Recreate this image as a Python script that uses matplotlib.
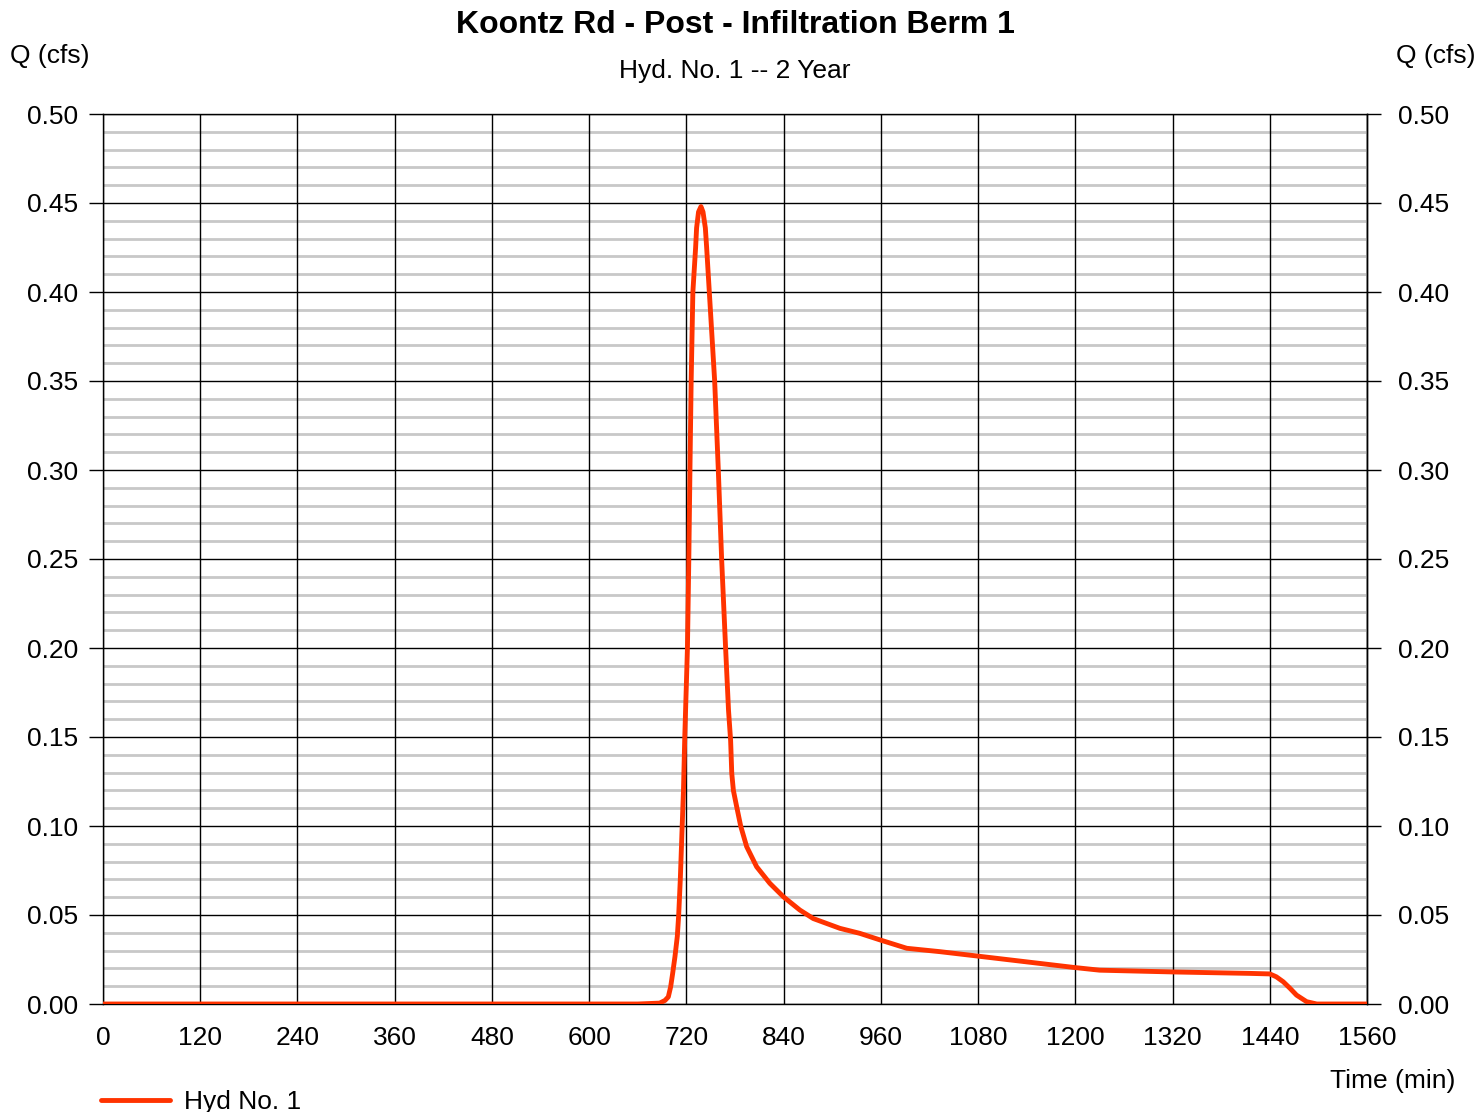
import matplotlib.pyplot as plt
from matplotlib.ticker import MultipleLocator

plt.rcParams['font.family'] = ['Liberation Sans', 'DejaVu Sans']

# hydrograph (time in min, flow in cfs)
time_min = [0, 660, 687, 693.6, 697.7, 700.6, 703, 705.9, 708.8, 710.5, 712.5,
            714.5, 716.4, 718, 720, 721.3, 723, 724.4, 725.9, 728, 731.4, 732.6,
            735, 738, 740.5, 743.4, 745, 748.3, 754.9, 759.4, 763.5, 768.4, 772,
            774.6, 776, 778, 782, 787, 794.4, 806.7, 823, 839.6, 860, 876.6,
            909.5, 934, 959, 992, 1033, 1078, 1197, 1230, 1321, 1415, 1440,
            1448, 1456.6, 1465, 1473, 1485.5, 1498, 1560]
flow_cfs = [0, 0, 0.0005, 0.002, 0.004, 0.0097, 0.017, 0.0266, 0.038, 0.05,
            0.07, 0.096, 0.12, 0.15, 0.18, 0.20, 0.25, 0.30, 0.35, 0.40, 0.425,
            0.436, 0.445, 0.448, 0.445, 0.436, 0.425, 0.40, 0.35, 0.30, 0.25,
            0.20, 0.165, 0.148, 0.1296, 0.12, 0.111, 0.10, 0.0884, 0.0771,
            0.0678, 0.0603, 0.0528, 0.048, 0.0425, 0.0397, 0.036, 0.0313,
            0.0294, 0.027, 0.0206, 0.019, 0.018, 0.0172, 0.0169, 0.0153, 0.0125,
            0.0088, 0.005, 0.0013, 0, 0]

x_ticks = list(range(0, 1561, 120))
y_ticks = [0.00, 0.05, 0.10, 0.15, 0.20, 0.25, 0.30, 0.35, 0.40, 0.45, 0.50]
y_labels = ["%.2f" % v for v in y_ticks]

title = "Koontz Rd - Post - Infiltration Berm 1"
subtitle = "Hyd. No. 1 -- 2 Year"
series_name = "Hyd No. 1"

fig = plt.figure(figsize=(14.76, 11.12), dpi=100)
ax = fig.add_axes([103/1476, 1-1004/1112, 1264/1476, 890/1112])

ax.set_xlim(0, 1560)
ax.set_ylim(0, 0.5)
ax.set_xticks(x_ticks)
ax.set_yticks(y_ticks)
ax.set_yticklabels(y_labels)
ax.yaxis.set_minor_locator(MultipleLocator(0.01))

ax.grid(which='minor', axis='y', color='#c8c8c8', lw=2.0)
ax.grid(which='major', axis='both', color='black', lw=1.0)
ax.set_axisbelow(True)
# vertical black lines go over the grey minor lines
ax.xaxis.set_zorder(0.6)

ax.tick_params(axis='y', which='major', direction='out', length=10, width=1,
               labelsize=19, pad=8)
ax.tick_params(axis='y', which='minor', length=0)
ax.tick_params(axis='x', which='major', length=0, labelsize=19, pad=16)
for s in ax.spines.values():
    s.set_linewidth(1.0)

# right hand scale
sec = ax.secondary_yaxis('right')
sec.set_yticks(y_ticks)
sec.set_yticklabels(y_labels)
sec.tick_params(axis='y', which='major', direction='out', length=10, width=1,
                labelsize=19, pad=12)
sec.tick_params(axis='y', which='minor', length=0)
sec.spines['right'].set_linewidth(1.0)

ax.plot(time_min, flow_cfs, color='#ff3300', lw=3.5, zorder=3,
        solid_joinstyle='round', solid_capstyle='round', label=series_name)

fig.text(0.498, 1-25/1112, title, ha='center', va='center', fontsize=23,
         fontweight='bold')
fig.text(0.498, 1-71/1112, subtitle, ha='center', va='center', fontsize=19)
fig.text(10/1476, 1-56/1112, "Q (cfs)", ha='left', va='center', fontsize=19)
fig.text(1475/1476, 1-56/1112, "Q (cfs)", ha='right', va='center', fontsize=19)
fig.text(1455/1476, 1-1081/1112, "Time (min)", ha='right', va='center',
         fontsize=19)

fig.legend(loc='center left', bbox_to_anchor=(101/1476, 1-1102/1112),
           frameon=False, fontsize=19, handlelength=2.6, handletextpad=0.55,
           borderpad=0, borderaxespad=0)

fig.savefig("out.png", dpi=100)
